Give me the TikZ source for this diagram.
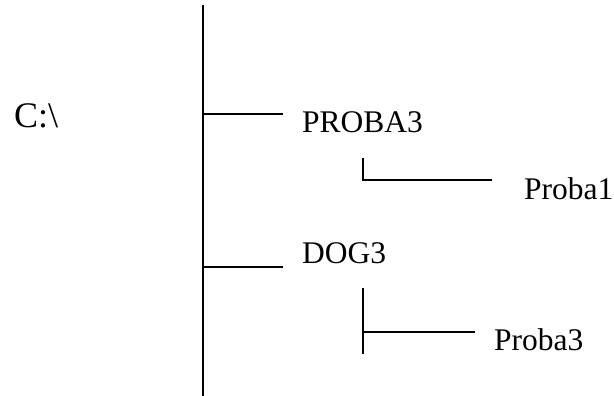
\documentclass[tikz,border=0pt]{standalone}
\usepackage{fontspec}
\setmainfont{Liberation Serif}
\begin{document}
\begin{tikzpicture}[x=1pt,y=-1pt,
  treeline/.style={line width=1.6pt,black},
  dirlabel/.style={anchor=base west,inner sep=0pt,font=\fontsize{31.5}{36}\selectfont},
  rootlabel/.style={anchor=base west,inner sep=0pt,font=\fontsize{36}{42}\selectfont}]
  \useasboundingbox (0,0) rectangle (614,396);

  % labels
  \node[rootlabel] (root) at (14,127.5) {C:\textbackslash};
  \node[dirlabel] (proba3) at (302,132.5) {PROBA3};
  \node[dirlabel] (proba1) at (524,199) {Proba1};
  \node[dirlabel] (dog3) at (302,263.5) {DOG3};
  \node[dirlabel] (probasub) at (494,350) {Proba3};

  % main trunk
  \coordinate (trunktop) at (203,5);
  \coordinate (trunkbot) at (203,396);
  \draw[treeline] (trunktop) -- (trunkbot);

  % first-level branches
  \coordinate (b1) at (203,114.3);
  \coordinate (b1end) at (283,114.3);
  \draw[treeline] (b1) -- (b1end);
  \coordinate (b2) at (203,266.7);
  \coordinate (b2end) at (283,266.7);
  \draw[treeline] (b2) -- (b2end);

  % subtree under PROBA3
  \coordinate (s1top) at (363,157.5);
  \coordinate (s1end) at (491.5,180);
  \draw[treeline] (s1top) |- (s1end);

  % subtree under DOG3
  \coordinate (s2top) at (363,287.7);
  \coordinate (s2bot) at (363,354.3);
  \coordinate (s2mid) at (363,331.7);
  \coordinate (s2end) at (474.5,331.7);
  \draw[treeline] (s2top) -- (s2bot);
  \draw[treeline] (s2mid) -- (s2end);
\end{tikzpicture}
\end{document}
